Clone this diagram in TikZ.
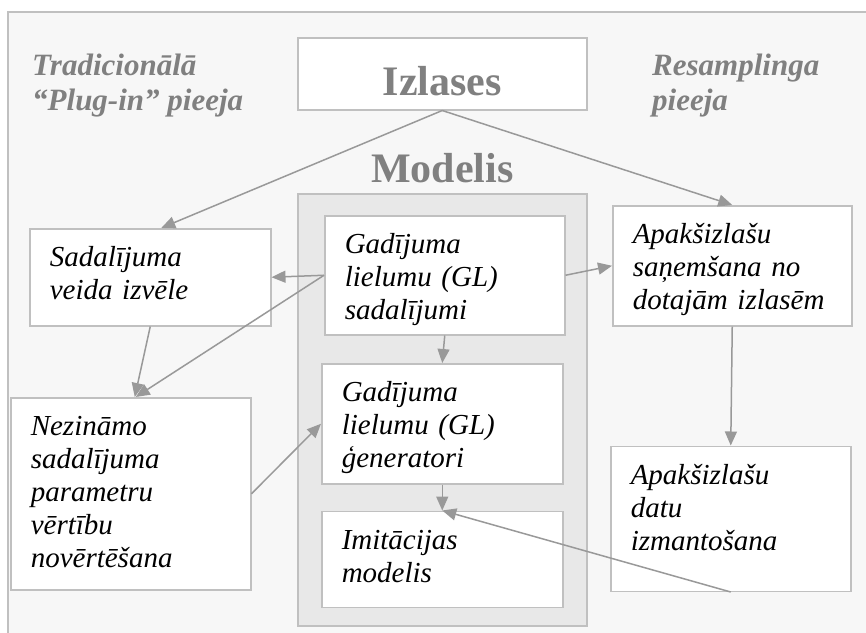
\documentclass[tikz,border=0pt]{standalone}
\usepackage{fontspec}
\setmainfont{Liberation Serif}
\usetikzlibrary{positioning,arrows.meta}
\definecolor{framegray}{HTML}{C0C0C0}
\definecolor{bggray}{HTML}{F7F7F7}
\definecolor{modgray}{HTML}{E8E8E8}
\definecolor{titlegray}{HTML}{808080}
\definecolor{arrgray}{HTML}{999999}
\tikzset{
  box/.style={draw=framegray, fill=white, line width=1.5pt, anchor=north west,
    inner xsep=20pt, inner ysep=0pt, align=left, text height=38pt,
    font=\itshape\fontsize{29}{33}\selectfont},
  heading/.style={text=titlegray, font=\bfseries\fontsize{42}{48}\selectfont},
  approach/.style={text=titlegray, align=left, anchor=base west, inner sep=0pt,
    font=\bfseries\itshape\fontsize{31}{35}\selectfont},
  arr/.style={draw=arrgray, line width=1.5pt, -{Triangle[length=14pt,width=12pt]}}
}

\begin{document}
\begin{tikzpicture}[x=1pt,y=-1pt]
\useasboundingbox (0,0) rectangle (866,632);
\clip (0,0) rectangle (866,632);
\draw[framegray, line width=2pt, fill=bggray] (8,12) rectangle (880,650);

% samples and model frame
\node[heading, draw=framegray, fill=white, line width=1.5pt, anchor=north west,
      minimum width=289pt, inner ysep=0pt, text height=58pt, text depth=14pt] (izl) at (297,37) {Izlases};
\node[draw=framegray, fill=modgray, line width=1.5pt, anchor=north west,
      minimum width=289pt, minimum height=432pt] (model) at (297,193) {};
\node[heading, anchor=base, inner sep=0pt] (modtitle) at ([yshift=11pt]model.north) {Modelis};

% approaches (base = last line)
\node[approach] (trad) at (32,110) {Tradicionālā\\“Plug-in” pieeja};
\node[approach] (resa) at (652,110) {Resamplinga\\pieeja};

% boxes
\node[box, text width=201pt, text depth=59pt] (sad) at (29,228) {Sadalījuma\\veida izvēle};
\node[box, text width=200pt, text depth=154pt] (nez) at (10,397) {Nezināmo\\sadalījuma\\parametru\\vērtību\\novērtēšana};
\node[box, text width=200pt, text depth=81pt] (gad) at (324,215) {Gadījuma\\lielumu (GL)\\sadalījumi};
\node[box, text width=201pt, text depth=82pt] (gen) at (321,363) {Gadījuma\\lielumu (GL)\\ģeneratori};
\node[box, below=26pt of gen.south west, anchor=north west, text width=201pt, text depth=58pt] (imit) {Imitācijas\\modelis};
\node[box, text width=199pt, text depth=82pt] (apak) at (612,205) {Apakšizlašu\\saņemšana no\\dotajām izlasēm};
\node[box, below=119pt of apak.south west, anchor=north west, xshift=-2pt, text width=200pt, text depth=107pt] (datu) {Apakšizlašu\\datu\\izmantošana};

% connectors
\draw[arr] (izl.south) -- ([xshift=11pt]sad.north);
\draw[arr] (izl.south) -- (apak.north);
\draw[arr] (gad.west) -- (sad.east);
\draw[arr] (gad.west) -- ([xshift=5pt]nez.north);
\draw[arr] (sad.south) -- ([xshift=4pt]nez.north);
\draw[arr] (gad.east) -- (apak.west);
\draw[arr] (gad.south) -- (gen.north);
\draw[arr] (apak.south) -- (datu.north);
\draw[arr] (nez.east) -- (gen.west);
\draw[arr] (gen.south) -- (imit.north);
\draw[arr] (datu.south) -- (imit.north);
\end{tikzpicture}
\end{document}
